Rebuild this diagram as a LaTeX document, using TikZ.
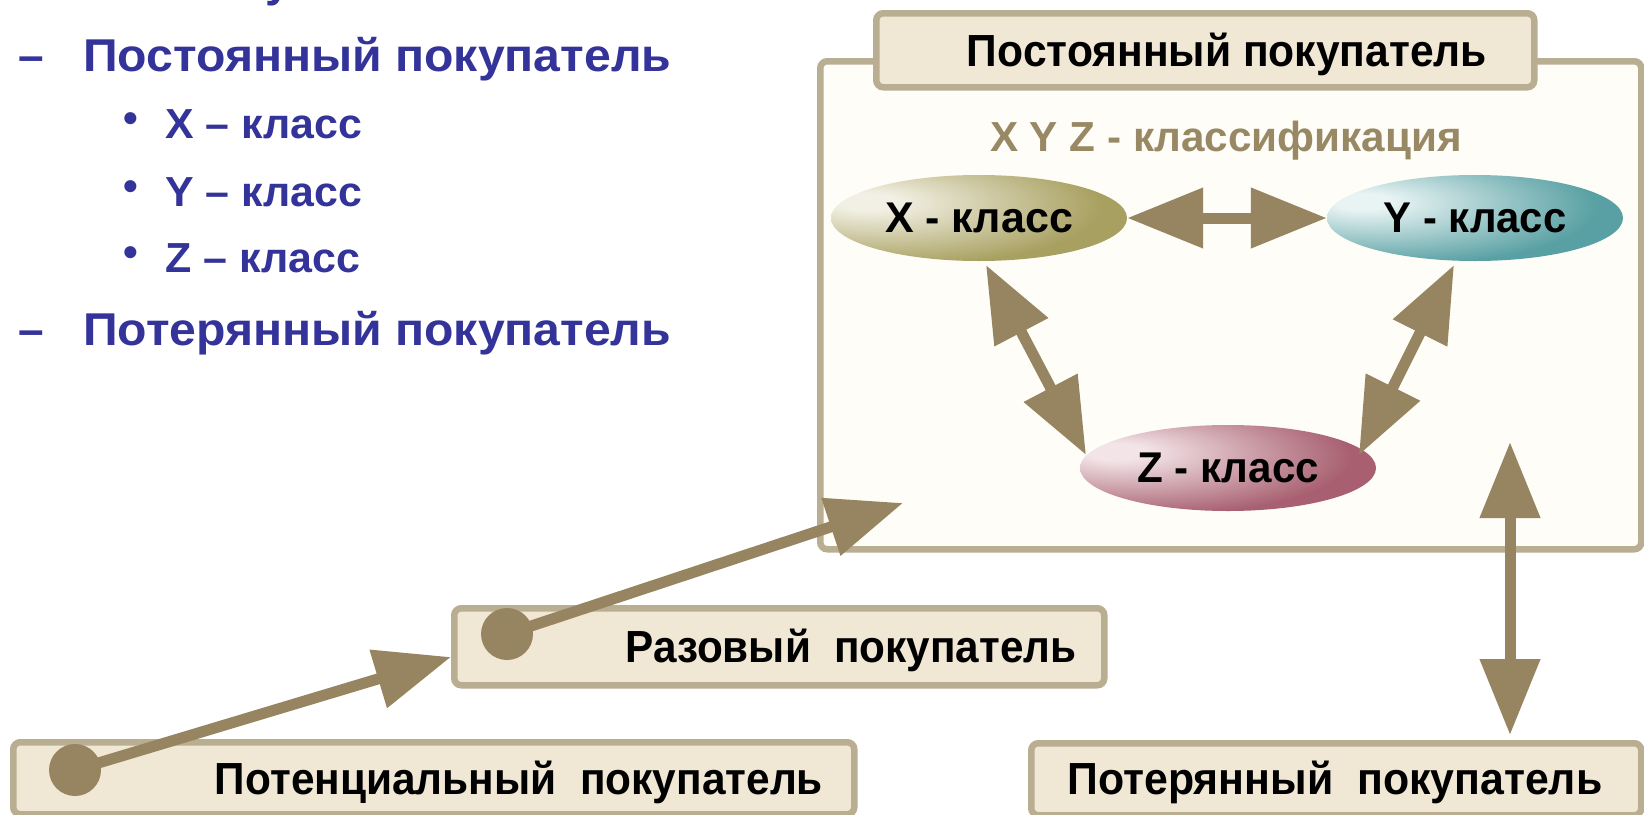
\documentclass[tikz,border=0pt]{standalone}
\usepackage{fontspec}
\usepackage{graphicx}
\setmainfont{Liberation Sans}
\usetikzlibrary{arrows.meta,shapes.geometric}
\definecolor{txtblue}{RGB}{51,51,153}
\definecolor{boxline}{RGB}{185,173,146}
\definecolor{boxfill}{RGB}{240,232,212}
\definecolor{panelfill}{RGB}{254,253,247}
\definecolor{arrowc}{RGB}{150,133,96}
\definecolor{khaki}{RGB}{152,136,100}
\definecolor{xcol}{RGB}{168,160,96}
\definecolor{xhi}{RGB}{242,240,228}
\definecolor{ycol}{RGB}{88,160,163}
\definecolor{yhi}{RGB}{232,243,243}
\definecolor{zcol}{RGB}{168,96,112}
\definecolor{zhi}{RGB}{243,228,232}
\pgfdeclareradialshading{xshade}{\pgfpoint{-20bp}{10bp}}{color(0bp)=(xhi); color(5bp)=(xhi); color(34bp)=(xcol); color(60bp)=(xcol); color(100bp)=(xcol)}
\pgfdeclareradialshading{yshade}{\pgfpoint{-20bp}{10bp}}{color(0bp)=(yhi); color(5bp)=(yhi); color(34bp)=(ycol); color(60bp)=(ycol); color(100bp)=(ycol)}
\pgfdeclareradialshading{zshade}{\pgfpoint{-20bp}{10bp}}{color(0bp)=(zhi); color(5bp)=(zhi); color(34bp)=(zcol); color(60bp)=(zcol); color(100bp)=(zcol)}
\newcommand{\fitw}[2]{\resizebox{#1}{\height}{#2}}
\tikzset{
  bluetxt/.style={text=txtblue, font=\bfseries\fontsize{46}{50}\selectfont, inner sep=0pt, anchor=base west},
  subtxt/.style={text=txtblue, font=\bfseries\fontsize{42}{46}\selectfont, inner sep=0pt, anchor=base west},
  blacktxt/.style={text=black, font=\bfseries\fontsize{45}{48}\selectfont, inner sep=0pt, anchor=base},
  boxstyle/.style={draw=boxline, fill=boxfill, line width=6.5pt, rounded corners=7pt, rectangle, inner sep=0pt, anchor=north west},
  panel/.style={draw=boxline, fill=panelfill, line width=6.5pt, rounded corners=7pt, rectangle, inner sep=0pt, anchor=north west},
  ell/.style={ellipse, minimum width=296pt, minimum height=86pt, inner sep=0pt, text=black, font=\bfseries\fontsize{43}{46}\selectfont},
  dotstyle/.style={circle, fill=arrowc, minimum size=52pt, inner sep=0pt},
  dbl/.style={draw=arrowc, line width=11pt, {Triangle[length=76pt,width=58pt]}-{Triangle[length=76pt,width=58pt]}},
  sgl/.style={draw=arrowc, line width=11pt, -{Triangle[length=76pt,width=58pt]}}
}
\begin{document}
\begin{tikzpicture}[x=1pt,y=-1pt]
\useasboundingbox (0,0) rectangle (1644,814);
\fill[white] (0,0) rectangle (1644,814);
% cut-off letter at top
\begin{scope}
\clip (0,0) rectangle (1644,814);
\node[bluetxt] (cut) at (265,-3.6) {у};
\end{scope}
% left list
\node[bluetxt, anchor=base] (d1) at (31,71) {–};
\node[bluetxt] (l1) at (83,71) {\fitw{588pt}{Постоянный покупатель}};
\node[subtxt, anchor=center] (b1) at (131,123) {•};
\node[subtxt] (l2) at (165,138) {\fitw{197pt}{X – класс}};
\node[subtxt, anchor=center] (b2) at (131,191) {•};
\node[subtxt] (l3) at (165,206) {\fitw{197pt}{Y – класс}};
\node[subtxt, anchor=center] (b3) at (131,257) {•};
\node[subtxt] (l4) at (165,272) {\fitw{195pt}{Z – класс}};
\node[bluetxt, anchor=base] (d2) at (31,345) {–};
\node[bluetxt] (l5) at (83,345) {\fitw{588pt}{Потерянный покупатель}};
% panel
\node[panel, minimum width=821pt, minimum height=488pt] (panel) at (817,58) {};
\node[boxstyle, minimum width=658pt, minimum height=74pt] (tab) at (873,10) {};
\node[blacktxt] (tabt) at (1227,66) {\fitw{520pt}{Постоянный покупатель}};
\node[blacktxt, text=khaki, font=\bfseries\fontsize{42}{44}\selectfont] (xyz) at (1226,151) {\fitw{472pt}{X Y Z - классификация}};
% ellipses
\node[ell, shading=xshade] (X) at (979,218) {\fitw{188pt}{X - класс}};
\node[ell, shading=yshade] (Y) at (1475,218) {\fitw{183pt}{Y - класс}};
\node[ell, shading=zshade] (Z) at (1228,468) {\fitw{182pt}{Z - класс}};
% arrows inside panel
\draw[dbl] (X.east) -- (Y.west);
\coordinate (xzA) at (986,265);
\coordinate (xzB) at (1086,455);
\coordinate (yzA) at (1454,265);
\coordinate (yzB) at (1359,455);
\draw[dbl] (xzA) -- (xzB);
\draw[dbl] (yzA) -- (yzB);
% lower boxes
\node[boxstyle, minimum width=841pt, minimum height=72pt] (pot) at (10,739) {};
\node[blacktxt] (pott) at (519,794) {\fitw{608pt}{Потенциальный\ \ покупатель}};
\node[boxstyle, minimum width=650pt, minimum height=77pt] (raz) at (451,605) {};
\node[blacktxt] (razt) at (851,662) {\fitw{451pt}{Разовый\ \ покупатель}};
\node[boxstyle, minimum width=610pt, minimum height=72pt] (lost) at (1028,740) {};
\node[blacktxt] (lostt) at (1335,794) {\fitw{535pt}{Потерянный\ \ покупатель}};
% dots
\node[dotstyle] (pdot) at (75,770) {};
\node[dotstyle] (rdot) at (507,634) {};
% connectors
\coordinate (razin) at (451,657);
\coordinate (panelin) at (903,503);
\draw[sgl] (pdot.center) -- (razin);
\draw[sgl] (rdot.center) -- (panelin);
\coordinate (lostup) at (1510,442);
\coordinate (lostdn) at (1510,735);
\draw[dbl] (lostup) -- (lostdn);
\end{tikzpicture}
\end{document}
